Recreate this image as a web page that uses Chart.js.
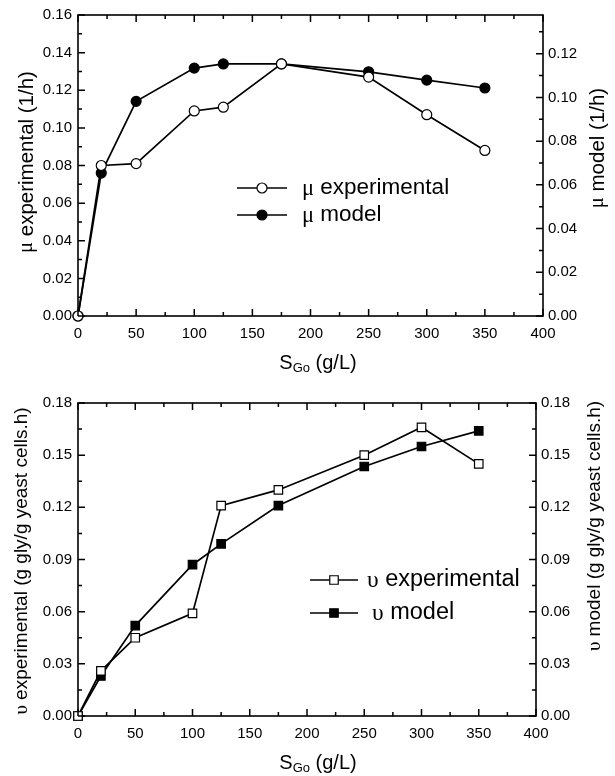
<!DOCTYPE html>
<html>
<head>
<meta charset="utf-8">
<script src="https://cdn.jsdelivr.net/npm/chart.js@4"></script>
<style>
  html, body { margin: 0; padding: 0; background: #fff; }
  #wrap { position: relative; width: 615px; height: 776px; }
  .box { position: absolute; left: 0; width: 615px; height: 388px; }
</style>
</head>
<body>
<div id="wrap">
  <div class="box" style="top:0"><canvas id="muChart" width="615" height="388"></canvas></div>
  <div class="box" style="top:388px"><canvas id="nuChart" width="615" height="388"></canvas></div>
</div>
<script>
// data
const sGo = [0, 20, 50, 100, 125, 175, 250, 300, 350];
const muExperimental = [0, 0.080, 0.081, 0.109, 0.111, 0.134, 0.127, 0.107, 0.088]; // left axis
const muModel = [0, 0.0654, 0.0982, 0.1134, 0.1153, 0.1153, 0.1117, 0.1079, 0.1043]; // right axis
const nuExperimental = [0, 0.026, 0.045, 0.059, 0.121, 0.130, 0.150, 0.166, 0.145];
const nuModel = [0, 0.023, 0.052, 0.087, 0.099, 0.121, 0.1435, 0.155, 0.164];
const xTickStep = 50;
const muTickStep = 0.02;
const nuTickStep = 0.03;

const SANS = "'Liberation Sans', Arial, sans-serif";
const SERIF = "'Liberation Serif', 'Times New Roman', serif";

const toPoints = (ys) => sGo.map((x, i) => ({ x: x, y: ys[i] }));

// draws several text pieces (different fonts) one after another
function drawParts(ctx, parts, x, y, align) {
  let total = 0;
  parts.forEach(p => { ctx.font = p.font; total += ctx.measureText(p.t).width; });
  let cx = align === 'center' ? x - total / 2 : x;
  ctx.textAlign = 'left';
  parts.forEach(p => {
    ctx.font = p.font;
    ctx.fillText(p.t, cx, y + (p.dy || 0));
    cx += ctx.measureText(p.t).width;
  });
}

// box frame, inward ticks with minors
function tickList(scale, step) {
  const out = [];
  const n = Math.floor((scale.max - scale.min) / (step / 2) + 1e-6);
  for (let i = 0; i <= n; i++) {
    const v = scale.min + i * step / 2;
    out.push({ p: scale.getPixelForValue(v), major: i % 2 === 0 });
  }
  return out;
}

const framePlugin = {
  id: 'boxFrame',
  afterDatasetsDraw(chart, args, opts) {
    const ctx = chart.ctx;
    const a = chart.chartArea;
    ctx.save();
    ctx.strokeStyle = '#000';
    ctx.lineWidth = 1.5;
    ctx.beginPath();
    tickList(chart.scales.x, opts.xStep).forEach(k => {
      const l = k.major ? 7 : 4;
      ctx.moveTo(k.p, a.bottom); ctx.lineTo(k.p, a.bottom - l);
      ctx.moveTo(k.p, a.top); ctx.lineTo(k.p, a.top + l);
    });
    tickList(chart.scales.y, opts.yStep).forEach(k => {
      const l = k.major ? 7 : 4;
      ctx.moveTo(a.left, k.p); ctx.lineTo(a.left + l, k.p);
    });
    tickList(chart.scales.y2, opts.yStep).forEach(k => {
      const l = k.major ? 7 : 4;
      ctx.moveTo(a.right, k.p); ctx.lineTo(a.right - l, k.p);
    });
    ctx.stroke();
    ctx.restore();
  },
  beforeDatasetsDraw(chart) {
    const ctx = chart.ctx;
    const a = chart.chartArea;
    ctx.save();
    ctx.strokeStyle = '#000';
    ctx.lineWidth = 1.6;
    ctx.strokeRect(a.left, a.top, a.right - a.left, a.bottom - a.top);
    ctx.restore();
  }
};

// axis titles and the little legend inside the plot
const textPlugin = {
  id: 'texts',
  afterDraw(chart, args, opts) {
    const ctx = chart.ctx;
    const a = chart.chartArea;
    ctx.save();
    ctx.fillStyle = '#000';
    ctx.textBaseline = 'middle';
    // x title
    drawParts(ctx, [
      { t: 'S', font: '20px ' + SANS },
      { t: 'Go', font: '13px ' + SANS, dy: 5 },
      { t: ' (g/L)', font: '20px ' + SANS }
    ], opts.xTitleX, a.bottom + 47, 'center');
    // y titles
    [[opts.leftTitle, opts.leftX, opts.leftY], [opts.rightTitle, opts.rightX, opts.rightY]].forEach(r => {
      ctx.save();
      ctx.translate(r[1], r[2]);
      ctx.rotate(-Math.PI / 2);
      drawParts(ctx, [
        { t: opts.greek, font: opts.titleSize + 'px ' + SERIF },
        { t: r[0], font: opts.titleSize + 'px ' + SANS }
      ], 0, 0, 'center');
      ctx.restore();
    });
    // legend
    opts.rows.forEach((row, i) => {
      const ds = chart.data.datasets[i];
      ctx.strokeStyle = '#000';
      ctx.lineWidth = 1.7;
      ctx.beginPath();
      ctx.moveTo(opts.lineX1, row.y); ctx.lineTo(opts.lineX2, row.y);
      ctx.stroke();
      const mx = (opts.lineX1 + opts.lineX2) / 2;
      ctx.fillStyle = ds.pointBackgroundColor;
      ctx.lineWidth = 1.2;
      ctx.beginPath();
      if (ds.pointStyle === 'rect') {
        const s = ds.pointRadius * Math.SQRT1_2;
        ctx.rect(mx - s, row.y - s, 2 * s, 2 * s);
      } else {
        ctx.arc(mx, row.y, ds.pointRadius, 0, Math.PI * 2);
      }
      ctx.fill(); ctx.stroke();
      ctx.fillStyle = '#000';
      const lab = ds.label;
      drawParts(ctx, [
        { t: lab.slice(0, 1), font: opts.legendSize + 'px ' + SERIF, dy: 1 },
        { t: lab.slice(1), font: opts.legendSize + 'px ' + SANS }
      ], row.textX, row.y, 'left');
    });
    ctx.restore();
  }
};

function makeChart(id, opt) {
  const tickFont = { family: SANS, size: 15 };
  const base = (fill) => ({
    borderColor: '#000',
    borderWidth: 1.7,
    pointStyle: opt.pointStyle,
    pointRadius: opt.pointRadius,
    pointBorderWidth: 1.2,
    pointBorderColor: '#000',
    pointBackgroundColor: fill,
    tension: 0,
    fill: false,
    clip: false
  });
  return new Chart(document.getElementById(id), {
    type: 'line',
    data: {
      datasets: [
        Object.assign(base('#fff'), { label: opt.labels[0], data: toPoints(opt.exp), yAxisID: 'y' }),
        Object.assign(base('#000'), { label: opt.labels[1], data: toPoints(opt.model), yAxisID: 'y2' })
      ]
    },
    options: {
      responsive: false,
      animation: false,
      devicePixelRatio: 1,
      layout: { padding: { top: opt.padTop, left: 0, right: 0, bottom: 0 } },
      plugins: {
        legend: { display: false },
        tooltip: { enabled: false },
        boxFrame: { xStep: xTickStep, yStep: opt.step },
        texts: opt.texts
      },
      scales: {
        x: {
          type: 'linear', min: 0, max: 400,
          grid: { display: false, drawTicks: false },
          border: { display: false },
          ticks: { stepSize: xTickStep, color: '#000', font: tickFont, padding: opt.xPad, maxRotation: 0 },
          afterFit: (s) => { s.height = opt.xHeight; }
        },
        y: {
          position: 'left', min: 0, max: opt.yMax,
          grid: { display: false, drawTicks: false },
          border: { display: false },
          ticks: { stepSize: opt.step, color: '#000', font: tickFont, padding: 6, callback: v => v.toFixed(2) },
          afterFit: (s) => { s.width = 78; }
        },
        y2: {
          position: 'right', min: 0, max: opt.y2Max,
          grid: { display: false, drawTicks: false },
          border: { display: false },
          ticks: { stepSize: opt.step, includeBounds: false, color: '#000', font: tickFont, padding: 5, callback: v => v.toFixed(2) },
          afterFit: (s) => { s.width = opt.rightWidth; }
        }
      }
    },
    plugins: [framePlugin, textPlugin]
  });
}

makeChart('muChart', {
  exp: muExperimental, model: muModel,
  labels: ['\u03bc experimental', '\u03bc model'],
  pointStyle: 'circle', pointRadius: 5,
  step: muTickStep, yMax: 0.16, y2Max: 0.1377,
  padTop: 13, xHeight: 72, rightWidth: 72, xPad: 9,
  texts: {
    greek: '\u03bc', titleSize: 20.5, legendSize: 22.5,
    leftTitle: ' experimental (1/h)', leftX: 27, leftY: 162,
    rightTitle: ' model (1/h)', rightX: 598, rightY: 148,
    xTitleX: 318,
    lineX1: 237, lineX2: 287,
    rows: [{ y: 188, textX: 302 }, { y: 215, textX: 302 }]
  }
});

makeChart('nuChart', {
  exp: nuExperimental, model: nuModel,
  labels: ['\u03c5 experimental', '\u03c5 model'],
  pointStyle: 'rect', pointRadius: 6,
  step: nuTickStep, yMax: 0.18, y2Max: 0.18,
  padTop: 12, xHeight: 60, rightWidth: 79, xPad: 9,
  texts: {
    greek: '\u03c5', titleSize: 19, legendSize: 23.5,
    leftTitle: ' experimental (g gly/g yeast cells.h)', leftX: 22, leftY: 173,
    rightTitle: ' model (g gly/g yeast cells.h)', rightX: 595, rightY: 138,
    xTitleX: 318,
    lineX1: 310, lineX2: 358,
    rows: [{ y: 192, textX: 367 }, { y: 225, textX: 372 }]
  }
});
</script>
</body>
</html>
